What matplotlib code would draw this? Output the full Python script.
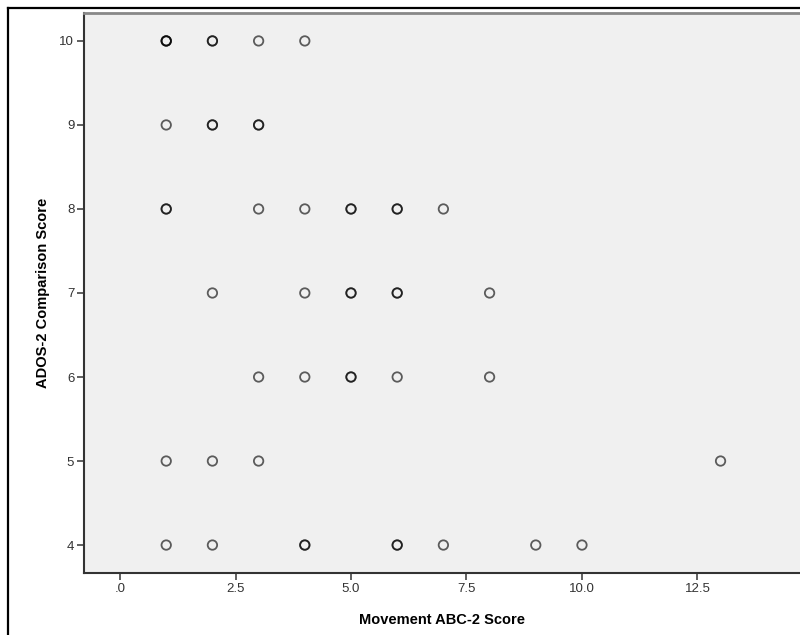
import matplotlib
matplotlib.use("Agg")
import matplotlib.pyplot as plt
from matplotlib.lines import Line2D
from matplotlib.ticker import FuncFormatter

# Movement ABC-2 score vs ADOS-2 comparison score (repeated pairs drawn darker)
abc_scores = [1, 1, 1, 2, 2, 3, 4,
              1, 2, 2, 3, 3,
              1, 1, 3, 4, 5, 5, 6, 6, 7,
              2, 4, 5, 5, 6, 6, 8,
              3, 4, 5, 5, 6, 8,
              1, 2, 3, 13,
              1, 2, 4, 4, 6, 6, 7, 9, 10]
ados_scores = [10, 10, 10, 10, 10, 10, 10,
               9, 9, 9, 9, 9,
               8, 8, 8, 8, 8, 8, 8, 8, 8,
               7, 7, 7, 7, 7, 7, 7,
               6, 6, 6, 6, 6, 6,
               5, 5, 5, 5,
               4, 4, 4, 4, 4, 4, 4, 4, 4]
x_ticks = [0, 2.5, 5.0, 7.5, 10.0, 12.5]
y_ticks = [4, 5, 6, 7, 8, 9, 10]

plt.rcParams['font.family'] = ['Liberation Sans', 'DejaVu Sans']

fig = plt.figure(figsize=(8, 6.35), dpi=100)
ax = fig.add_axes([0.105, 0.0976, 0.895, 0.882])
ax.set_facecolor('#f0f0f0')

ax.scatter(abc_scores, ados_scores, s=46, facecolors='none',
           edgecolors=(0, 0, 0, 0.62), linewidths=1.3)

ax.set_xlim(-0.78, 14.72)
ax.set_ylim(3.667, 10.333)
ax.set_xticks(x_ticks)
ax.set_yticks(y_ticks)
ax.xaxis.set_major_formatter(FuncFormatter(lambda v, p: ('%.1f' % v).lstrip('0') if v < 1 else '%.1f' % v))
ax.tick_params(direction='out', length=5, width=1.2, color='#444444',
               labelsize=9.5, labelcolor='#333333', pad=2)

for side in ['left', 'bottom']:
    ax.spines[side].set_color('#333333')
    ax.spines[side].set_linewidth(1.5)
ax.spines['top'].set_color('#888888')
ax.spines['top'].set_linewidth(2)
ax.spines['right'].set_visible(False)

ax.set_xlabel('Movement ABC-2 Score', fontsize=10.5, fontweight='bold', labelpad=13)
ax.set_ylabel('ADOS-2 Comparison Score', fontsize=10.5, fontweight='bold', labelpad=7)

# outer frame of the exported chart
fig.add_artist(Line2D([8/800, 8/800], [0, 1 - 8/635], color='black', lw=1.6,
                      transform=fig.transFigure))
fig.add_artist(Line2D([8/800, 1], [1 - 8/635, 1 - 8/635], color='black', lw=1.6,
                      transform=fig.transFigure))

fig.savefig('out.png', dpi=100)
